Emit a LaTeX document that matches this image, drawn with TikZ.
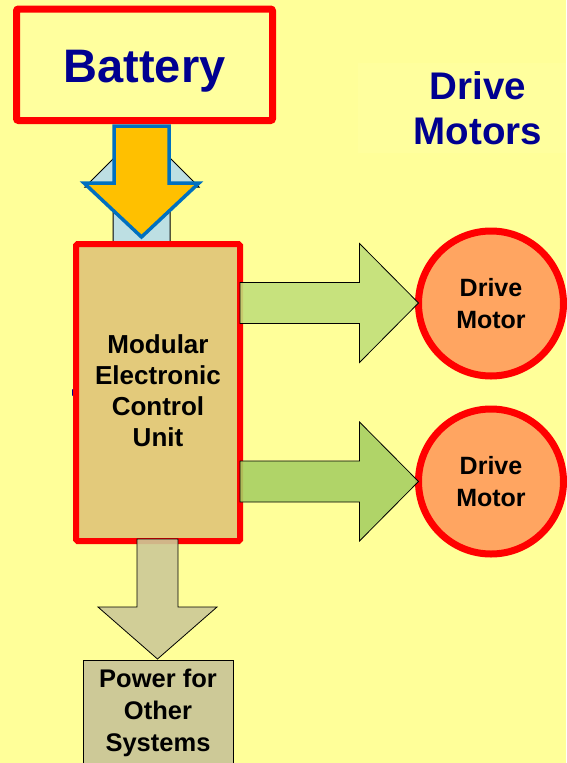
\documentclass[tikz,border=0pt]{standalone}
\usepackage{fontspec}
\setmainfont{Liberation Sans}
\usetikzlibrary{calc}
\definecolor{bgy}{HTML}{FFFF99}
\definecolor{boxy}{HTML}{FFFF9E}
\definecolor{navyt}{HTML}{000090}
\definecolor{redb}{HTML}{FF0000}
\definecolor{ecufill}{HTML}{E3CA7B}
\definecolor{greenA}{HTML}{C2DF7A}
\definecolor{greenB}{HTML}{A8D063}
\definecolor{motorfill}{HTML}{FFA561}
\definecolor{tanf}{HTML}{CDC997}
\definecolor{orangef}{HTML}{FFC000}
\definecolor{blueb}{HTML}{0070C0}
\definecolor{lblue}{HTML}{BDDFE3}
\newcommand\blockdown[6]{%
  \path[#1] ($(#2)+(-#4,0)$) -- ($(#3)+(-#4,-#6)$) -- ($(#3)+(-#5,-#6)$) -- (#3)
    -- ($(#3)+(#5,-#6)$) -- ($(#3)+(#4,-#6)$) -- ($(#2)+(#4,0)$) -- cycle;}
\newcommand\blockright[6]{%
  \path[#1] ($(#2)+(0,-#4)$) -- ($(#3)+(-#6,-#4)$) -- ($(#3)+(-#6,-#5)$) -- (#3)
    -- ($(#3)+(-#6,#5)$) -- ($(#3)+(-#6,#4)$) -- ($(#2)+(0,#4)$) -- cycle;}
\tikzset{
  redbox/.style={draw=redb, line width=7pt, inner sep=0pt, outer sep=0pt},
  motor/.style={circle, draw=redb, line width=7pt, fill=motorfill, minimum size=145pt,
    inner sep=0pt, outer sep=0pt, align=center, font=\fontsize{25}{32}\selectfont\bfseries},
  thinarrow/.style={draw=black, line width=0.8pt},
}
\begin{document}
\begin{tikzpicture}[x=1pt,y=-1pt]
\useasboundingbox (0,0) rectangle (566,763);
\fill[bgy] (0,0) rectangle (566,763);
% title backdrop
\fill[boxy] (358,63) rectangle (566,153);
\node[align=center, text=navyt, inner sep=0pt, font=\fontsize{38.5}{45}\selectfont\bfseries] (title) at (478,108) {Drive\\Motors};
% battery
\node[redbox, fill=boxy, rounded corners=2pt, minimum width=256pt, minimum height=111.5pt] (battery) at (144.5,64.75) {};
\node[anchor=base, text=navyt, inner sep=0pt, font=\fontsize{47}{50}\selectfont\bfseries] (batlabel) at (144.5,82) {Battery};
% ECU position
\coordinate (ecuc) at (158,392.5);
% light blue up arrow (behind)
\draw[fill=lblue, draw=black, line width=1pt] (113,243) -- (113,187) -- (85,187) -- (142,130) -- (199,187) -- (170,187) -- (170,243) -- cycle;
% orange down arrow
\coordinate (os) at ($(battery.south)+(-3,5.5)$);
\coordinate (ot) at (141.5,237);
\blockdown{fill=orangef, draw=blueb, line width=3.5pt, line join=miter}{os}{ot}{27.5}{57.5}{54}
% small mark
\fill[navyt] (72,389) -- (76,392.5) -- (72,396) -- cycle;
% ECU
\node[redbox, fill=ecufill, minimum width=164pt, minimum height=297pt, line width=6pt, rounded corners=1.5pt] (ecu) at (ecuc) {};
\node[align=center, inner sep=0pt, font=\fontsize{26}{31}\selectfont\bfseries] (ecutext) at ($(ecu.center)+(0,-2)$) {Modular\\Electronic\\Control\\Unit};
% motors
\node[motor] (m1) at (491,303.5) {Drive\\Motor};
\node[motor] (m2) at (491,481.5) {Drive\\Motor};
% green arrows
\coordinate (g1s) at (240,303);
\coordinate (g1t) at ($(m1.west)+(0,-0.5)$);
\blockright{thinarrow, fill=greenA, fill opacity=0.9}{g1s}{g1t}{20.5}{59.5}{59}
\coordinate (g2s) at (240,481.5);
\coordinate (g2t) at (m2.west);
\blockright{thinarrow, fill=greenB, fill opacity=0.9}{g2s}{g2t}{20.5}{59.5}{59}
% power box
\node[draw=black, line width=0.8pt, fill=tanf, minimum width=150pt, minimum height=120pt, inner sep=0pt, outer sep=0pt] (power) at (158,720) {};
\node[anchor=north, align=center, inner sep=0pt, font=\fontsize{25.5}{32}\selectfont\bfseries] (powlabel) at (158,669) {Power for\\Other\\Systems};
% tan arrow
\coordinate (ts) at ($(ecu.south)+(-0.5,-2)$);
\coordinate (tt) at ($(power.north)+(-0.5,-1)$);
\blockdown{thinarrow, fill=tanf, fill opacity=0.9}{ts}{tt}{20.5}{59.5}{52}
\end{tikzpicture}
\end{document}
